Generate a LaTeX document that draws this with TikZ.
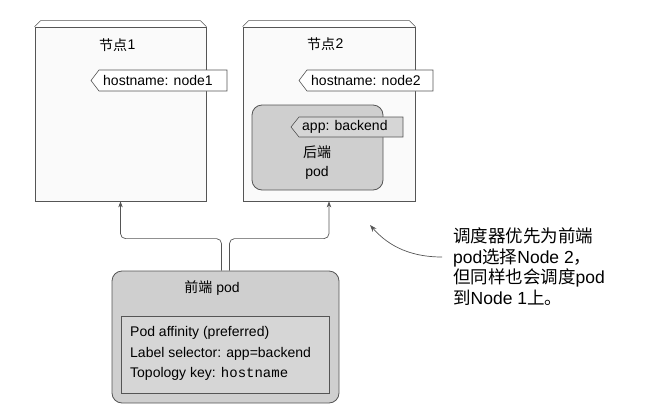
\documentclass[tikz,border=0pt]{standalone}
\usepackage{fontspec}
\setmainfont{Liberation Sans}
\setsansfont{Liberation Sans}
\setmonofont{Liberation Mono}
\newfontfamily\cjk{Noto Sans CJK SC}
\usetikzlibrary{arrows.meta,positioning}
\definecolor{edge}{HTML}{555555}
\definecolor{boxfill}{HTML}{FAFAFA}
\definecolor{podfill}{HTML}{CFCFCF}
\definecolor{innerfill}{HTML}{D6D6D6}
\tikzset{
  hostbox/.style={draw=edge, line width=0.8pt, fill=boxfill, minimum width=172pt, minimum height=174pt, inner sep=0pt},
  bevel/.style={draw=edge, line width=0.6pt, fill=white},
  tagtext/.style={font=\fontsize{14}{16}\selectfont, inner sep=0pt, anchor=west},
  conn/.style={draw=edge, line width=0.7pt, rounded corners=5pt, -{Stealth[length=6pt,width=4.5pt]}},
  podbox/.style={draw=edge, line width=0.8pt, rounded corners=10pt, inner sep=0pt},
  lbl/.style={font=\fontsize{14}{16}\selectfont, inner sep=0pt},
}
\newcommand{\tagshape}[6]{% x0, x1, y0, y1, fill, unused
  \draw[draw=edge, line width=0.6pt, fill=#5] (#1,{(#3+#4)/2}) -- (#1+8,#3) -- (#2,#3) -- (#2,#4) -- (#1+8,#4) -- cycle;}
\begin{document}
\begin{tikzpicture}[x=1pt,y=-1pt]
\useasboundingbox (0,0) rectangle (648,418);
% node 1
\node[hostbox, minimum width=171pt] (n1) at (120.5,114) {};
\draw[bevel] (n1.north west) -- ++(6,-6) -- ([xshift=-6pt,yshift=6pt]n1.north east) -- (n1.north east);
\node[lbl, anchor=west] (t1) at (99,45) {\cjk 节点}; 
\node[lbl, anchor=west, inner sep=0pt] (t1n) at (t1.east) {1};
% node 2
\node[hostbox] (n2) at (329,114) {};
\draw[bevel] (n2.north west) -- ++(6,-6) -- ([xshift=-6pt,yshift=6pt]n2.north east) -- (n2.north east);
\node[lbl, anchor=west] (t2) at (307,44) {\cjk 节点};
\node[lbl, anchor=west, inner sep=0pt] (t2n) at (t2.east) {2};
% host labels
\tagshape{91}{227}{70}{91}{white}{}
\node[tagtext] (h1) at (103,80.5) {hostname: node1};
\tagshape{299}{433}{70}{91}{white}{}
\node[tagtext] (h2) at (311,80.5) {hostname: node2};
% backend pod
\node[podbox, fill=podfill, minimum width=131pt, minimum height=85pt] (bp) at (317.5,147.5) {};
\tagshape{291}{403}{117}{137}{innerfill}{}
\node[tagtext] (al) at (302,127) {app: backend};
\node[lbl, align=center] (bpl) at (317,163) {{\cjk 后端}\\[3pt]pod};
% frontend pod
\node[podbox, fill=podfill, minimum width=227pt, minimum height=132pt] (fp) at (225.5,337) {};
\node[lbl] (fpl) at (212,288) {{\cjk 前端} pod};
\node[draw=edge, line width=0.7pt, fill=innerfill, minimum width=208pt, minimum height=77pt, inner sep=0pt] (aff) at (225,354.5) {};
\node[lbl, anchor=west] (a1) at (130,333) {Pod affinity (preferred)};
\node[lbl, anchor=west] (a2) at (130,354) {Label selector: app=backend};
\node[lbl, anchor=west] (a3) at (130,374) {Topology key: \texttt{hostname}};
% connectors
\draw[conn] ([xshift=-4pt]fp.north) -- ++(0,-32) -| (n1.south);
\draw[conn] ([xshift=4pt]fp.north) -- ++(0,-32) -| (n2.south);
% note
\node[font=\fontsize{17.5}{20.5}\selectfont, align=left, anchor=north west, inner sep=0pt] (note) at (453,228)
  {{\cjk 调度器优先为前端}\\pod{\cjk 选择}Node 2{\cjk ，}\\{\cjk 但同样也会调度}pod\\{\cjk 到}Node 1{\cjk 上。}};
\coordinate (ntip) at (370,225);
\draw[draw=edge, line width=0.7pt, -{Stealth[length=7pt,width=5pt]}] ([xshift=-11pt,yshift=-29pt]note.north west) .. controls (405,257) and (385,242) .. (ntip);
\end{tikzpicture}
\end{document}
